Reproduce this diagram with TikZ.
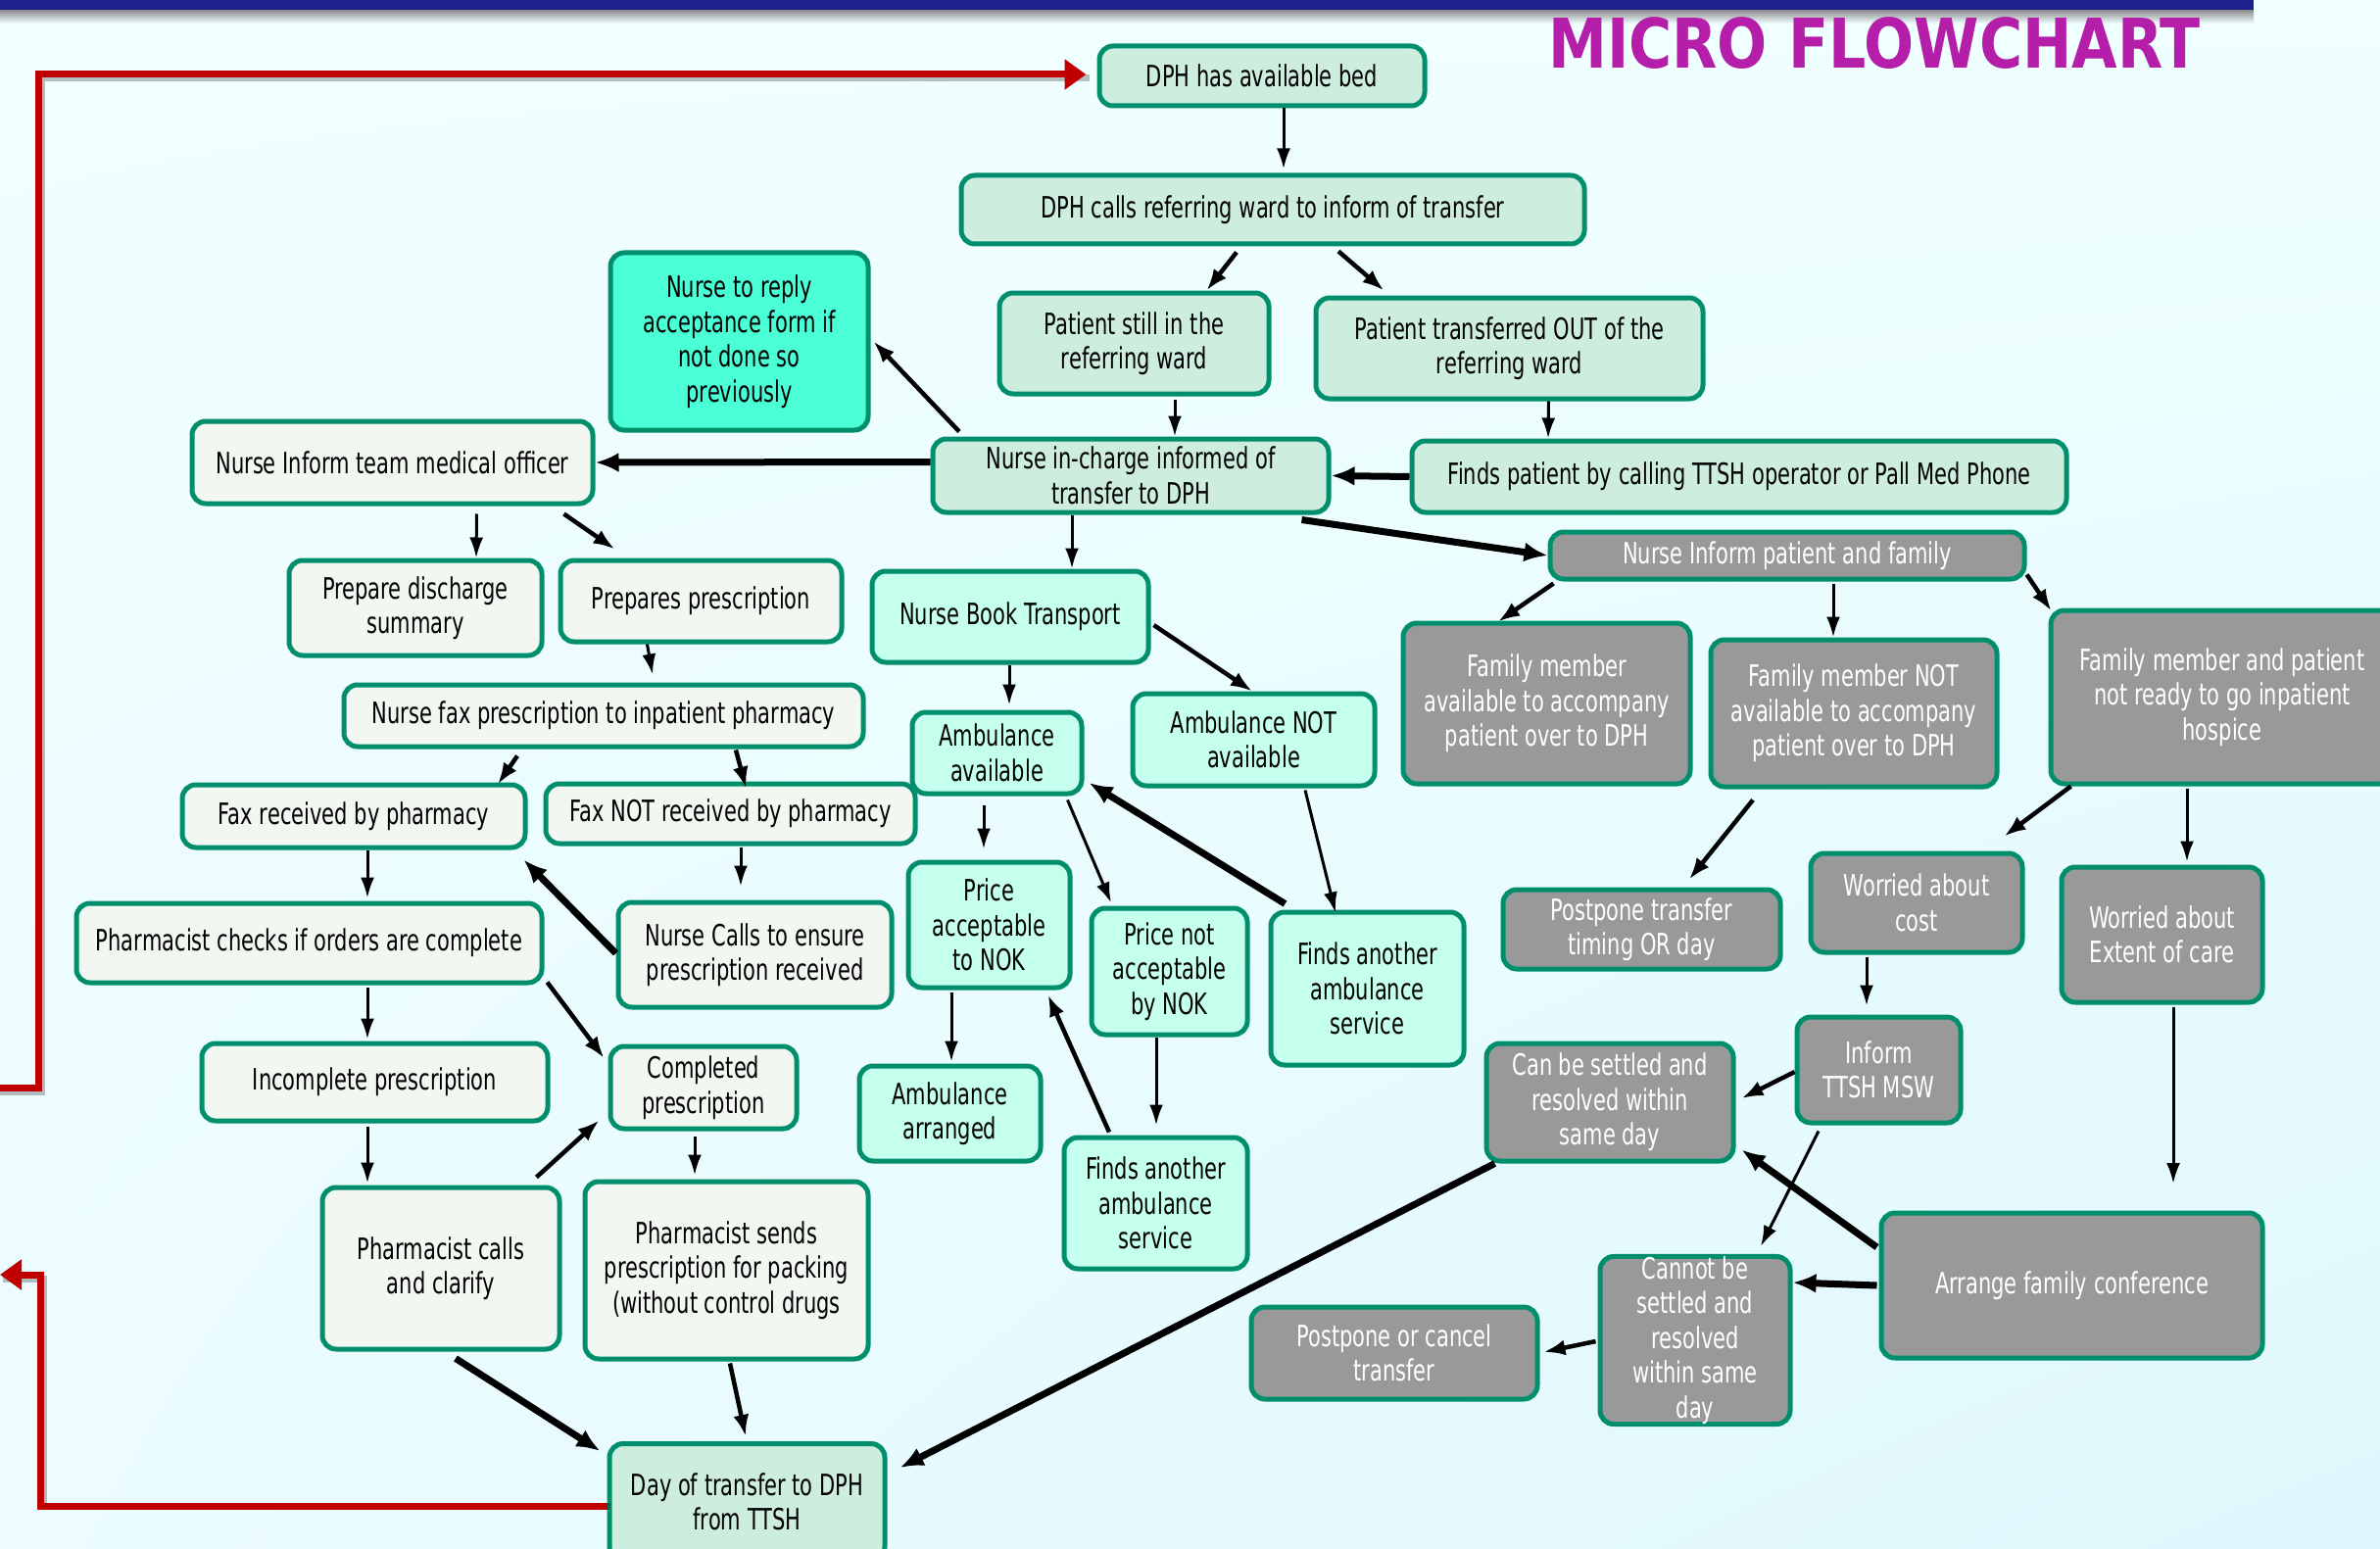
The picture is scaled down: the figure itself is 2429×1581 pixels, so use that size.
\documentclass[tikz,border=0pt]{standalone}
\usepackage{fontspec}
\setmainfont{DejaVu Sans}[FakeStretch=0.70]
\newfontfamily\titlefont{DejaVu Sans}[FakeStretch=0.86]
\usetikzlibrary{arrows.meta,shadings}
\definecolor{bcol}{RGB}{0,142,108}
\definecolor{mintc}{RGB}{205,237,222}
\definecolor{offc}{RGB}{242,247,242}
\definecolor{aquac}{RGB}{197,255,238}
\definecolor{brightc}{RGB}{74,255,213}
\definecolor{greyc}{RGB}{153,153,153}
\definecolor{bgA}{RGB}{240,255,255}
\definecolor{bgB}{RGB}{236,252,255}
\definecolor{bgC}{RGB}{222,247,252}
\definecolor{navyc}{RGB}{32,32,140}
\definecolor{redc}{RGB}{192,0,0}
\definecolor{titlec}{RGB}{180,30,168}
\tikzset{
  box/.style={draw=bcol, line width=5pt, rounded corners=14pt, align=center,
    inner sep=3pt, font=\fontsize{30pt}{35.5pt}\selectfont},
  mint/.style={box, fill=mintc},
  offw/.style={box, fill=offc},
  aqua/.style={box, fill=aquac},
  bright/.style={box, fill=brightc},
  grey/.style={box, fill=greyc, text=white},
  thinarr/.style={line width=3pt, -{Latex[length=21pt,width=14pt]}},
  medarr/.style={line width=4.5pt, -{Latex[length=22pt,width=16pt]}},
  thickarr/.style={line width=7pt, -{Latex[length=24pt,width=20pt]}},
  redline/.style={line width=7pt, draw=redc, -{Triangle[length=22pt,width=30pt]}},
  redshadow/.style={line width=7pt, draw=black, opacity=0.25, transform canvas={xshift=3pt,yshift=-4pt}},
}
\begin{document}
\begin{tikzpicture}[x=1pt,y=-1pt]
\useasboundingbox (0,0) rectangle (2429,1581);
\shade[upper left=bgA, upper right=bgA, lower left=bgB, lower right=bgC] (0,0) rectangle (2429,1581);
\shade[top color=black!45, bottom color=bgA] (0,10) rectangle (2300,24);
\fill[navyc] (0,0) rectangle (2300,10);

\node[anchor=base, text=titlec, font=\titlefont\bfseries\fontsize{70pt}{80pt}\selectfont] (title) at (1913,70) {MICRO FLOWCHART};

% nodes
\node[mint, minimum width=332pt, minimum height=61pt] (n1) at (1288,77.5) {DPH has available bed};
\node[mint, minimum width=636pt, minimum height=70pt] (n2) at (1299,214) {DPH calls referring ward to inform of transfer};
\node[mint, minimum width=275pt, minimum height=103pt] (n3) at (1157.5,350.5) {Patient still in the\\referring ward};
\node[mint, minimum width=395pt, minimum height=103pt] (n4) at (1540.5,355.5) {Patient transferred OUT of the\\referring ward};
\node[bright, minimum width=263pt, minimum height=181pt] (n5) at (754.5,348.5) {Nurse to reply\\acceptance form if\\not done so\\previously};
\node[offw, minimum width=409pt, minimum height=84pt] (n6) at (400.5,472) {Nurse Inform team medical officer};
\node[mint, minimum width=404pt, minimum height=75pt] (n7) at (1154,485.5) {Nurse in-charge informed of\\transfer to DPH};
\node[mint, minimum width=668pt, minimum height=73pt] (n8) at (1775,486.5) {Finds patient by calling TTSH operator or Pall Med Phone};
\node[grey, minimum width=484pt, minimum height=48pt] (n9) at (1824,567) {Nurse Inform patient and family};
\node[offw, minimum width=258pt, minimum height=97pt] (n10) at (424,620.5) {Prepare discharge\\summary};
\node[offw, minimum width=287pt, minimum height=83pt] (n11) at (715.5,613.5) {Prepares prescription};
\node[aqua, minimum width=282pt, minimum height=93pt] (n12) at (1031,629.5) {Nurse Book Transport};
\node[offw, minimum width=530pt, minimum height=63pt] (n13) at (616,730.5) {Nurse fax prescription to inpatient pharmacy};
\node[aqua, minimum width=173pt, minimum height=83pt] (n14) at (1017.5,768.5) {Ambulance\\available};
\node[aqua, minimum width=247pt, minimum height=94pt] (n15) at (1279.5,755) {Ambulance NOT\\available};
\node[grey, minimum width=293pt, minimum height=164pt] (n16) at (1578.5,718) {Family member\\available to accompany\\patient over to DPH};
\node[grey, minimum width=292pt, minimum height=150pt] (n17) at (1892,728) {Family member NOT\\available to accompany\\patient over to DPH};
\node[grey, minimum width=350pt, minimum height=177pt] (n18) at (2268,711.5) {Family member and patient\\not ready to go inpatient\\hospice};
\node[offw, minimum width=350pt, minimum height=64pt] (n19) at (361,833) {Fax received by pharmacy};
\node[offw, minimum width=377pt, minimum height=61pt] (n20) at (745.5,830.5) {Fax NOT received by pharmacy};
\node[offw, minimum width=475pt, minimum height=81pt] (n21) at (315.5,962.5) {Pharmacist checks if orders are complete};
\node[offw, minimum width=279pt, minimum height=107pt] (n22) at (770.5,974.5) {Nurse Calls to ensure\\prescription received};
\node[aqua, minimum width=165pt, minimum height=128pt] (n23) at (1009.5,944) {Price\\acceptable\\to NOK};
\node[aqua, minimum width=159pt, minimum height=129pt] (n24) at (1193.5,991.5) {Price not\\acceptable\\by NOK};
\node[aqua, minimum width=197pt, minimum height=156pt] (n25) at (1395.5,1009) {Finds another\\ambulance\\service};
\node[grey, minimum width=283pt, minimum height=81pt] (n26) at (1675.5,948.5) {Postpone transfer\\timing OR day};
\node[grey, minimum width=216pt, minimum height=101pt] (n27) at (1956,921.5) {Worried about\\cost};
\node[grey, minimum width=205pt, minimum height=138pt] (n28) at (2206.5,954) {Worried about\\Extent of care};
\node[offw, minimum width=353pt, minimum height=79pt] (n29) at (382.5,1104.5) {Incomplete prescription};
\node[offw, minimum width=190pt, minimum height=84pt] (n30) at (718,1110) {Completed\\prescription};
\node[aqua, minimum width=185pt, minimum height=97pt] (n31) at (969.5,1136.5) {Ambulance\\arranged};
\node[aqua, minimum width=187pt, minimum height=134pt] (n32) at (1179.5,1228) {Finds another\\ambulance\\service};
\node[grey, minimum width=252pt, minimum height=120pt] (n33) at (1643,1125) {Can be settled and\\resolved within\\same day};
\node[grey, minimum width=167pt, minimum height=108pt] (n34) at (1917.5,1092) {Inform\\TTSH MSW};
\node[offw, minimum width=242pt, minimum height=165pt] (n35) at (450,1294.5) {Pharmacist calls\\and clarify};
\node[offw, minimum width=289pt, minimum height=181pt] (n36) at (741.5,1296.5) {Pharmacist sends\\prescription for packing\\(without control drugs};
\node[grey, minimum width=389pt, minimum height=148pt] (n37) at (2114.5,1312) {Arrange family conference};
\node[grey, minimum width=194pt, minimum height=170pt, inner ysep=0pt] (n38) at (1730,1368) {Cannot be\\settled and\\resolved\\within same\\day};
\node[grey, minimum width=292pt, minimum height=94pt] (n39) at (1423,1381) {Postpone or cancel\\transfer};
\node[mint, minimum width=281pt, minimum height=119pt] (n40) at (762.5,1533) {Day of transfer to DPH\\from TTSH};

\coordinate (c28) at (2218,1208);
\coordinate (rin) at (-10,1110);
\coordinate (rout) at (0,1301);

% red connectors
\draw[redshadow] (rin) -- ++(49,0) |- ([xshift=-11pt,yshift=1.5pt]n1.west);
\draw[redshadow] (n40.west) -- ++(-578,0) |- (rout);
\draw[redline] (rin) -- ++(49,0) |- ([xshift=-11pt,yshift=1.5pt]n1.west);
\draw[redline] ([yshift=-4pt]n40.west) -- ++(-578,0) |- (rout);

% arrows
\draw[thinarr] ([xshift=22pt]n1.south) -- ([xshift=11pt,yshift=4pt]n2.north);
\draw[medarr] ([xshift=-37pt,yshift=-6pt]n2.south) -- ([xshift=74pt]n3.north);
\draw[medarr] ([xshift=67pt,yshift=-5pt]n2.south) -- ([xshift=-128pt,yshift=5pt]n4.north);
\draw[thinarr] ([xshift=41.5pt,yshift=-3pt]n3.south) -- ([xshift=45pt]n7.north);
\draw[thinarr] ([xshift=40pt]n4.south) -- ([xshift=-195pt]n8.north);
\draw[thickarr] (n8.west) -- (n7.east);
\draw[medarr] ([xshift=-175pt,yshift=5pt]n7.north) -- ([xshift=3pt]n5.east);
\draw[thickarr] ([yshift=14pt]n7.west) -- (n6.east);
\draw[thinarr] ([xshift=-60pt]n7.south) -- ([xshift=63pt]n12.north);
\draw[thickarr] ([xshift=-30pt,yshift=-5pt]n7.south east) -- (n9.west);
\draw[thinarr] ([xshift=86pt,yshift=-8pt]n6.south) -- ([xshift=62pt]n10.north);
\draw[medarr] ([xshift=-32pt,yshift=-8pt]n6.south east) -- ([xshift=-88pt,yshift=9pt]n11.north);
\draw[thinarr] ([xshift=-55pt]n11.south) -- ([xshift=50pt,yshift=8pt]n13.north);
\draw[medarr] ([xshift=-88pt,yshift=-7pt]n13.south) -- ([xshift=147pt,yshift=-2pt]n19.north);
\draw[medarr] ([xshift=135pt,yshift=-1pt]n13.south) -- ([xshift=16pt,yshift=-7pt]n20.north);
\draw[thinarr] ([xshift=14pt]n19.south) -- ([xshift=59.5pt,yshift=3pt]n21.north);
\draw[thinarr] ([xshift=10.5pt,yshift=-1pt]n20.south) -- ([xshift=-14.5pt,yshift=14pt]n22.north);
\draw[thickarr] ([yshift=1.5pt]n22.west) -- ([xshift=-4pt,yshift=-10pt]n19.south east);
\draw[thinarr] ([xshift=59.5pt,yshift=-2pt]n21.south) -- ([xshift=-7.5pt,yshift=2pt]n29.north);
\draw[medarr] ([xshift=3pt,yshift=3pt]n21.south east) -- ([xshift=-4pt,yshift=30pt]n30.west);
\draw[thinarr] ([xshift=-7.5pt,yshift=-3pt]n29.south) -- ([xshift=-75pt,yshift=2pt]n35.north);
\draw[medarr] ([xshift=-26pt,yshift=8pt]n35.north east) -- ([xshift=-9pt,yshift=11pt]n30.south west);
\draw[thinarr] ([xshift=-9pt,yshift=-5pt]n30.south) -- ([xshift=-32.5pt,yshift=4pt]n36.north);
\draw[thickarr] ([xshift=15pt,yshift=-7pt]n35.south) -- ([xshift=-7pt,yshift=-10pt]n40.north west);
\draw[medarr] ([xshift=3.5pt,yshift=-2pt]n36.south) -- ([xshift=-1.5pt,yshift=5pt]n40.north);
\draw[thinarr] ([xshift=-1pt]n12.south) -- ([xshift=12.5pt,yshift=5pt]n14.north);
\draw[medarr] ([xshift=3pt,yshift=-8.5pt]n12.east) -- ([xshift=-1.5pt]n15.north);
\draw[thinarr] ([xshift=-13.5pt,yshift=-9pt]n14.south) -- ([xshift=-5.5pt,yshift=11pt]n23.north);
\draw[thinarr] ([xshift=-17pt,yshift=-4pt]n14.south east) -- ([xshift=-59.5pt,yshift=3pt]n24.north);
\draw[thickarr] ([xshift=17pt,yshift=6pt]n25.north west) -- ([xshift=5pt,yshift=-30.5pt]n14.east);
\draw[thinarr] ([xshift=52.5pt,yshift=-2pt]n15.south) -- ([xshift=-32.5pt,yshift=-3pt]n25.north);
\draw[thinarr] ([xshift=-38.5pt,yshift=-2pt]n23.south) -- ([xshift=1.5pt,yshift=2pt]n31.north);
\draw[medarr] ([xshift=-47.5pt,yshift=3pt]n32.north) -- ([xshift=-25pt,yshift=-5pt]n23.south east);
\draw[thinarr] ([xshift=-13.5pt]n24.south) -- ([xshift=0.5pt,yshift=10pt]n32.north);
\draw[medarr] ([xshift=6pt,yshift=-2pt]n9.south west) -- ([xshift=-49.5pt,yshift=-1pt]n16.north);
\draw[thinarr] ([xshift=47pt,yshift=-2pt]n9.south) -- ([xshift=-21pt]n17.north);
\draw[medarr] ([yshift=7pt]n9.south east) -- ([xshift=3pt,yshift=-3pt]n18.north west);
\draw[medarr] ([xshift=-103pt,yshift=-11pt]n17.south) -- ([xshift=48.5pt,yshift=8pt]n26.north);
\draw[medarr] ([xshift=23pt]n18.south west) -- ([xshift=-21pt,yshift=15pt]n27.north east);
\draw[thinarr] ([xshift=-36pt,yshift=-2pt]n18.south) -- ([xshift=25.5pt,yshift=3pt]n28.north);
\draw[thinarr] ([xshift=-51pt,yshift=-2pt]n27.south) -- ([xshift=-12.5pt,yshift=9pt]n34.north);
\draw[thinarr] ([xshift=11.5pt,yshift=-2pt]n28.south) -- (c28);
\draw[medarr] ([yshift=-2pt]n34.west) -- ([xshift=6pt,yshift=4pt]n33.east);
\draw[thinarr] ([xshift=-61.5pt,yshift=-6pt]n34.south) -- ([xshift=67pt,yshift=8pt]n38.north);
\draw[thickarr] ([xshift=-2pt,yshift=39pt]n37.west) -- ([xshift=6pt,yshift=14pt]n33.south east);
\draw[thickarr] ([xshift=-2pt]n37.west) -- ([yshift=59pt]n38.east);
\draw[medarr] ([xshift=-2pt,yshift=-1pt]n38.west) -- ([xshift=4pt,yshift=1pt]n39.east);
\draw[thickarr] ([xshift=11pt]n33.south west) -- ([xshift=13pt,yshift=35pt]n40.east);
\end{tikzpicture}
\end{document}
